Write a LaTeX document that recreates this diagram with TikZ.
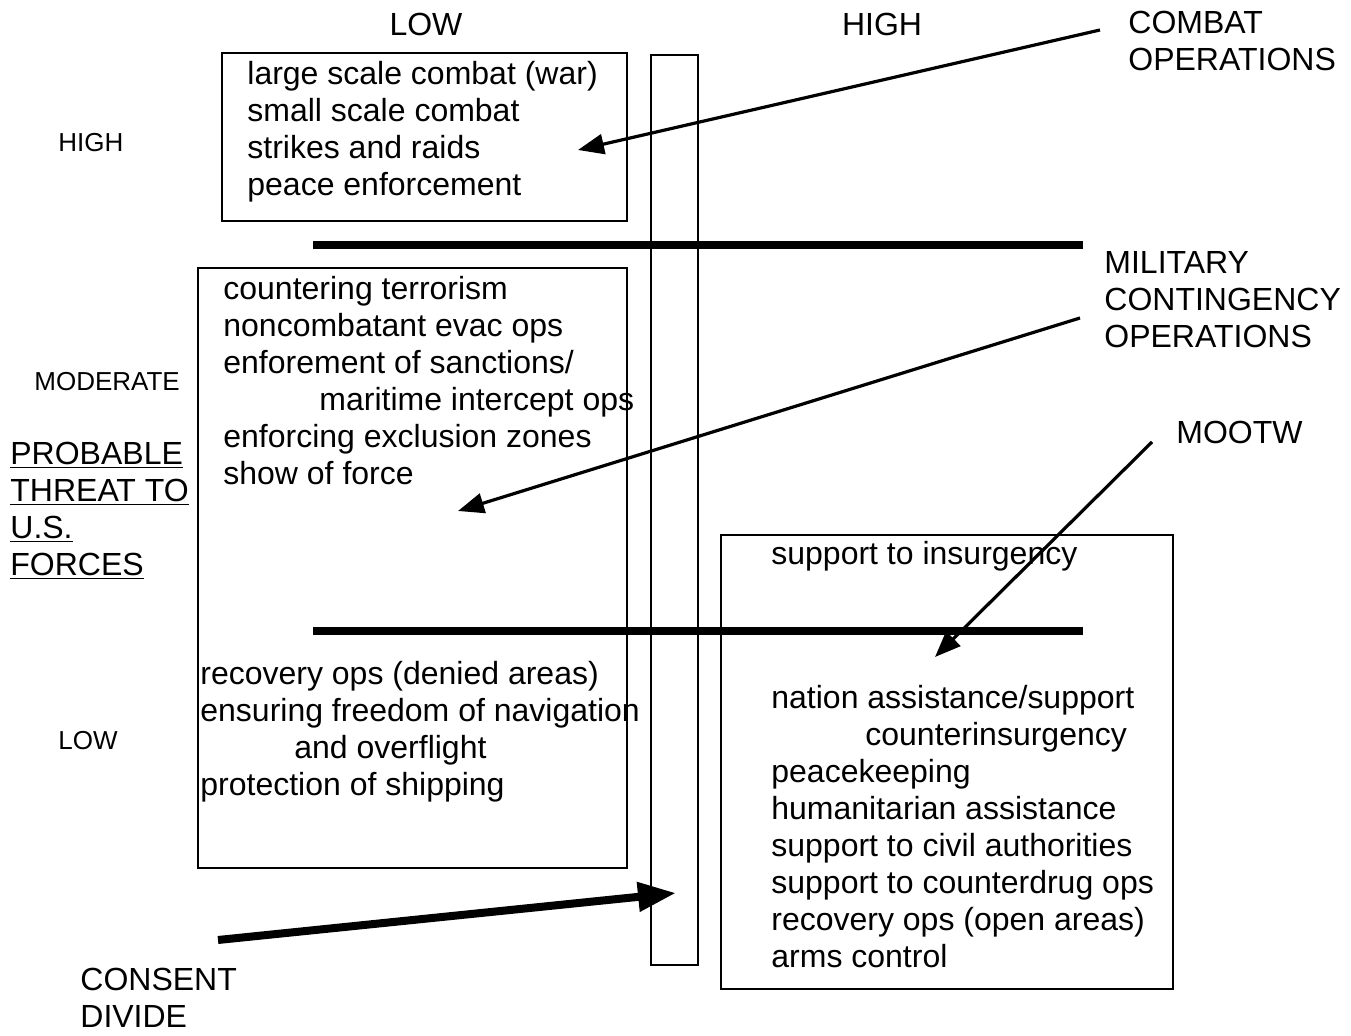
\documentclass[tikz,border=0pt]{standalone}
\usepackage{fontspec}
\setmainfont{Liberation Sans}
\usetikzlibrary{arrows.meta}

\begin{document}
\begin{tikzpicture}[x=0.5pt,y=-0.5pt]
      \tikzset{txt/.style={inner sep=0pt,
          align=left,
          anchor=north west,
          font=\fontsize{16}{18.5}\selectfont},
        small/.style={inner sep=0pt,
          font=\fontsize{13}{15}\selectfont},
        frame/.style={line width=1.2pt},
        divide/.style={line width=4pt},
        pointer/.style={line width=1.6pt,-{Triangle[length=13pt,width=10pt]}}
      }
      \useasboundingbox (0,0) rectangle (1351,1036);
      % column and row headings
      \node [txt,anchor=center] (low) at (426,24) {LOW};
      \node [txt,anchor=center] (high) at (882,24) {HIGH};
      \node [small,anchor=west] (rowhigh) at (58,143) {HIGH};
      \node [small,anchor=west] (rowmod) at (34,382) {MODERATE};
      \node [small,anchor=west] (rowlow) at (58,741) {LOW};
      \node [txt] (threat) at (10,442) {\underline{PROBABLE}\\\underline{THREAT TO}\\\underline{U.S.}\\\underline{FORCES}};
      % boxes
      \draw [frame] (222,53) rectangle (627,221);
      \draw [frame] (198,268) rectangle (627,868);
      \draw [frame] (721,535) rectangle (1173,989);
      \draw [frame] (651,55) rectangle (698,965);
      \draw [divide] (313,245) -- (1083,245);
      \draw [divide] (313,631) -- (1083,631);
      % box contents
      \node [txt] (combat) at (247,61) {large scale combat (war)\\small scale combat\\strikes and raids\\peace enforcement};
      \node [txt] (contingency) at (223,276) {countering terrorism\\noncombatant evac ops\\enforement of sanctions/\\\hspace*{48pt}maritime intercept ops\\enforcing exclusion zones\\show of force};
      \node [txt] (lowthreat) at (200,661) {recovery ops (denied areas)\\ensuring freedom of navigation\\\hspace*{47pt}and overflight\\protection of shipping};
      \node [txt] (insurgency) at (771,541) {support to insurgency};
      \node [txt] (mootw) at (771,685) {nation assistance/support\\\hspace*{47pt}counterinsurgency\\peacekeeping\\humanitarian assistance\\support to civil authorities\\support to counterdrug ops\\recovery ops (open areas)\\arms control};
      % side labels
      \node [txt] (lblcombat) at (1128,11) {COMBAT\\OPERATIONS};
      \node [txt] (lblmoc) at (1104,251) {MILITARY\\CONTINGENCY\\OPERATIONS};
      \node [txt] (lblmootw) at (1176,421) {MOOTW};
      \node [txt] (lblconsent) at (80,968) {CONSENT\\DIVIDE};
      % arrows
      \coordinate (c1) at (1100,30);
      \coordinate (c2) at (578,150);
      \coordinate (m1) at (1080,318);
      \coordinate (m2) at (458,511);
      \coordinate (w1) at (1152,442);
      \coordinate (w2) at (935,657);
      \coordinate (d1) at (218,940);
      \coordinate (d2) at (676,893);
      \draw [pointer] (c1) -- (c2);
      \draw [pointer] (m1) -- (m2);
      \draw [pointer] (w1) -- (w2);
      \draw [line width=4pt,-{Triangle[length=19pt,width=14pt]}] (d1) -- (d2);
    \end{tikzpicture}
\end{document}
